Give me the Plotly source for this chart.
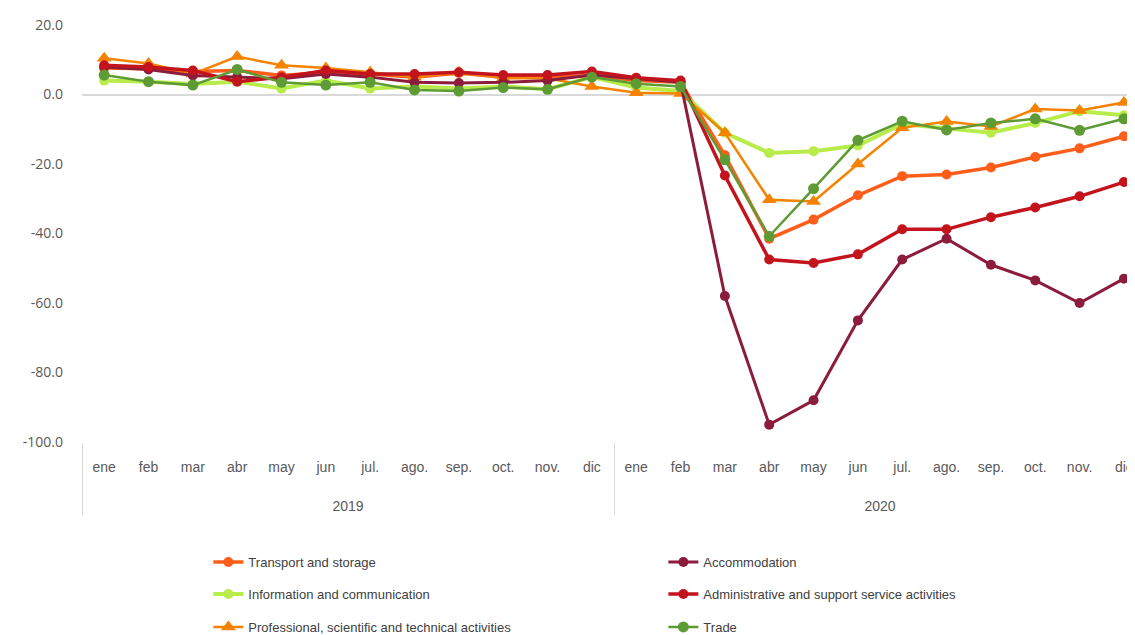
import plotly.graph_objects as go

months = ["ene", "feb", "mar", "abr", "may", "jun", "jul.", "ago.", "sep.", "oct.", "nov.", "dic"]
years = ["2019", "2020"]

transport = [7.6, 7.4, 6.6, 6.9, 5.5, 6.4, 5.9, 5.0, 6.2, 5.0, 5.0, 5.5,
             4.0, 3.5, -17.5, -41.5, -36.0, -29.0, -23.5, -23.0, -21.0, -18.0, -15.5, -12.0]
information = [4.0, 3.7, 3.0, 3.7, 1.7, 4.0, 1.7, 2.3, 1.7, 2.3, 1.5, 5.0,
               2.0, 1.0, -11.0, -16.8, -16.3, -14.7, -8.5, -9.8, -11.0, -8.2, -4.8, -6.0]
professional = [10.4, 8.9, 5.9, 10.9, 8.4, 7.6, 6.4, 5.0, 6.4, 4.7, 4.7, 2.3,
                0.5, 0.3, -11.0, -30.3, -30.8, -20.0, -9.6, -7.8, -9.2, -4.2, -4.6, -2.3]
accommodation = [7.9, 7.2, 5.5, 5.0, 4.5, 5.9, 5.0, 3.5, 3.3, 3.5, 4.0, 5.6,
                 4.5, 3.5, -58.0, -95.0, -88.0, -65.0, -47.5, -41.5, -49.0, -53.5, -60.0, -53.0]
administrative = [8.4, 7.9, 6.9, 3.7, 5.0, 6.9, 5.9, 5.9, 6.4, 5.6, 5.6, 6.6,
                  4.8, 4.0, -23.3, -47.5, -48.5, -46.0, -38.8, -38.8, -35.3, -32.5, -29.3, -25.2]
trade = [5.6, 3.7, 2.7, 7.2, 3.5, 2.7, 3.5, 1.3, 1.0, 2.0, 1.5, 5.0,
         3.1, 2.3, -18.8, -40.8, -27.1, -13.2, -7.7, -10.2, -8.2, -7.0, -10.3, -7.0]

y_ticks = [20, 0, -20, -40, -60, -80, -100]

# year labels get leading line breaks so they sit lower, as in the reference
year_labels = ["<br><br>" + y for y in years]
x = [[y for y in year_labels for _ in months], months * len(years)]

series = [
    ("Transport and storage", transport, "#FF5E1A", 3.5, "circle", 10, "legend"),
    ("Information and communication", information, "#B8EC4A", 4, "circle", 10, "legend2"),
    ("Professional, scientific and technical activities", professional, "#F58300", 2.5, "triangle-up", 13, "legend3"),
    ("Accommodation", accommodation, "#8C1C3C", 3, "circle", 10, "legend"),
    ("Administrative and support service activities", administrative, "#C3141E", 3.5, "circle", 10, "legend2"),
    ("Trade", trade, "#5E9B35", 2.5, "circle", 11, "legend3"),
]

fig = go.Figure()
for name, vals, color, lw, sym, ms, lg in series:
    fig.add_trace(go.Scatter(
        x=x, y=vals, name=name, mode="lines+markers",
        line=dict(color=color, width=lw),
        marker=dict(color=color, size=ms, symbol=sym),
        legend=lg,
    ))

leg_common = dict(orientation="h", xanchor="left", yanchor="middle",
                  entrywidth=410, entrywidthmode="pixels",
                  font=dict(family="Liberation Sans Narrow, Liberation Sans, Arial", size=13, color="#404040"),
                  bgcolor="rgba(0,0,0,0)", itemclick=False)

# the page body adds an 8px offset, so the figure is 8px smaller than the window
fig.update_layout(
    width=1127, height=627,
    margin=dict(l=74, r=0, t=17, b=193, autoexpand=False),
    paper_bgcolor="white", plot_bgcolor="white",
    showlegend=True,
    legend=dict(x=0.12, y=-0.288, **leg_common),
    legend2=dict(x=0.12, y=-0.3645, **leg_common),
    legend3=dict(x=0.12, y=-0.4436, **leg_common),
    xaxis=dict(type="multicategory", range=[-0.5, 23.25], showgrid=False, showline=False,
               zeroline=False, showdividers=True, dividercolor="#d9d9d9", dividerwidth=1,
               automargin=False, ticklabelstandoff=15,
               tickfont=dict(family="Liberation Sans Narrow, Liberation Sans, Arial", size=14, color="#595959")),
    yaxis=dict(range=[-100, 20], tickvals=y_ticks, ticktext=[f"{v:.1f}" for v in y_ticks],
               showgrid=False, zeroline=True, zerolinecolor="#d9d9d9", zerolinewidth=2,
               showline=False, ticklabelstandoff=18, automargin=False,
               tickfont=dict(family="Open Sans, Liberation Sans, Arial", size=14, color="#595959")),
)

fig.write_html("out.html")
